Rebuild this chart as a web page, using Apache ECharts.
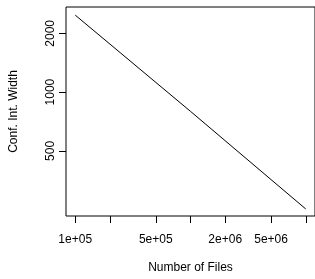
<!DOCTYPE html>
<html>
<head>
<meta charset="utf-8">
<script src="https://cdn.jsdelivr.net/npm/echarts@6/dist/echarts.min.js"></script>
<style>
  html, body { margin: 0; padding: 0; background: #fff; }
  #main { width: 315px; height: 279px; }
</style>
</head>
<body>
<div id="main"></div>
<script>
// data (log-log)
const files = [1e5, 1e6, 1e7]
const widths = [2480, 797, 252]
const xTicks = [1e5, 2e5, 5e5, 1e6, 2e6, 5e6, 1e7]
const xLabels = [1e5, 5e5, 2e6, 5e6]
const yTicks = [500, 1000, 2000]

const labelNames = { 100000: '1e+05', 500000: '5e+05', 2000000: '2e+06', 5000000: '5e+06' }
const font = 'Liberation Sans, Arial, sans-serif'

const myChart = echarts.init(document.getElementById('main'))
myChart.setOption({
  animation: false,
  grid: {
    left: 64,
    top: 7,
    width: 255,
    height: 209,
    show: true,
    borderColor: '#000',
    borderWidth: 1,
    backgroundColor: 'transparent'
  },
  xAxis: {
    type: 'log',
    logBase: 10,
    min: 83176,
    max: 12022644,
    name: 'Number of Files',
    nameLocation: 'middle',
    nameGap: 46,
    nameTextStyle: { color: '#000', fontSize: 12, fontFamily: font },
    axisLine: { show: false },
    axisTick: {
      show: true,
      length: 7,
      lineStyle: { color: '#000' },
      customValues: xTicks
    },
    axisLabel: {
      color: '#000',
      fontSize: 12,
      fontFamily: font,
      margin: 18,
      customValues: xLabels,
      formatter: v => labelNames[Math.round(v)] || ''
    },
    splitLine: { show: false },
    minorTick: { show: false }
  },
  yAxis: {
    type: 'log',
    logBase: 10,
    min: 232,
    max: 2729,
    name: 'Conf. Int. Width',
    nameLocation: 'middle',
    nameGap: 46,
    nameRotate: 90,
    nameTextStyle: { color: '#000', fontSize: 12, fontFamily: font },
    axisLine: { show: false },
    axisTick: {
      show: true,
      length: 7,
      lineStyle: { color: '#000' },
      customValues: yTicks
    },
    axisLabel: {
      color: '#000',
      fontSize: 12,
      fontFamily: font,
      rotate: 90,
      margin: 9,
      customValues: yTicks,
      formatter: v => String(Math.round(v))
    },
    splitLine: { show: false }
  },
  series: [
    {
      type: 'line',
      data: files.map((f, i) => [f, widths[i]]),
      showSymbol: false,
      symbol: 'none',
      lineStyle: { color: '#000', width: 1 }
    }
  ]
})
</script>
</body>
</html>
